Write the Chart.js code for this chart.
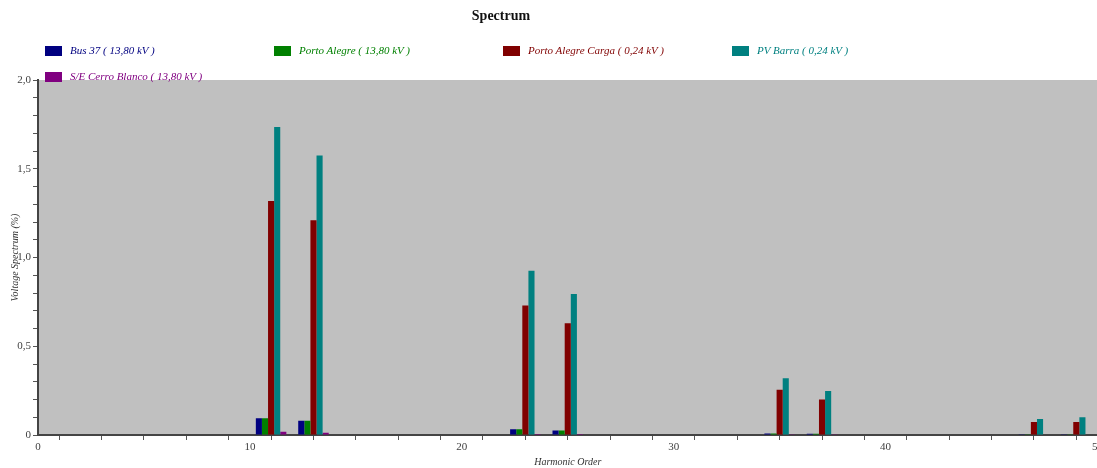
<!DOCTYPE html>
<html>
<head>
<meta charset="utf-8">
<script src="https://cdn.jsdelivr.net/npm/chart.js@4.4.0/dist/chart.umd.min.js"></script>
<style>
  body { margin: 0; overflow: hidden; background: #fff; font-family: "Liberation Serif", serif; }
  #wrap { position: absolute; left: 0; top: 0; width: 1104px; height: 468px; }
  #title { position: absolute; top: 8px; left: 0; width: 1002px; text-align: center; font-weight: bold; font-size: 14px; color: #111; }
  .leg { position: absolute; font-style: italic; font-size: 11px; white-space: nowrap; }
  .leg span.box { position: absolute; left: 0; top: 1px; width: 17px; height: 10px; }
  .leg span.txt { position: absolute; left: 25px; top: -1px; }
</style>
</head>
<body>
<div id="wrap"><canvas id="spectrumChart"></canvas></div>
<div id="title">Spectrum</div>
<div id="legend"></div>
<script>
// Harmonic orders that carry a value
const harmonics = [11, 13, 23, 25, 35, 37, 47, 49];

// Voltage spectrum (%) per bus, one value per harmonic above
const seriesNames = [
    "Bus 37 ( 13,80 kV )",
    "Porto Alegre ( 13,80 kV )",
    "Porto Alegre Carga ( 0,24 kV )",
    "PV Barra ( 0,24 kV )",
    "S/E Cerro Blanco ( 13,80 kV )"
];
const bus37 = [0.095, 0.08, 0.032, 0.026, 0.008, 0.007, 0.001, 0.001];
const portoAlegre = [0.095, 0.08, 0.032, 0.026, 0.008, 0.007, 0.001, 0.001];
const portoAlegreCarga = [1.318, 1.21, 0.73, 0.63, 0.255, 0.2, 0.073, 0.073];
const pvBarra = [1.735, 1.575, 0.925, 0.795, 0.32, 0.248, 0.09, 0.1];
const cerroBlanco = [0.018, 0.012, 0.006, 0.005, 0.002, 0.002, 0, 0];
const seriesColors = ["#000080", "#008000", "#800000", "#008080", "#800080"];

// Axis ticks
const xLabelTicks = [0, 10, 20, 30, 40, 50];
const yLabelTicks = [0, 0.5, 1.0, 1.5, 2.0];

const allValues = [bus37, portoAlegre, portoAlegreCarga, pvBarra, cerroBlanco];

const datasets = allValues.map((vals, i) => ({
    label: seriesNames[i],
    data: harmonics.map((h, j) => ({ x: h, y: vals[j] })),
    backgroundColor: seriesColors[i],
    borderWidth: 0,
    categoryPercentage: 0.72,
    barPercentage: 1.0
}));

// Legend laid out in fixed columns like the original
const legendDiv = document.getElementById("legend");
seriesNames.forEach((name, i) => {
    const col = i % 4;
    const row = Math.floor(i / 4);
    const item = document.createElement("div");
    item.className = "leg";
    item.style.left = (45 + col * 229) + "px";
    item.style.top = (45 + row * 26) + "px";
    item.innerHTML = `<span class="box" style="background:${seriesColors[i]}"></span><span class="txt" style="color:${seriesColors[i]}">${name}</span>`;
    legendDiv.appendChild(item);
});

// Grey plot background
const plotBackground = {
    id: "plotBackground",
    beforeDraw(chart) {
        const { ctx, chartArea } = chart;
        ctx.save();
        ctx.fillStyle = "#C0C0C0";
        ctx.fillRect(chartArea.left, chartArea.top, chartArea.right - chartArea.left, chartArea.bottom - chartArea.top);
        ctx.restore();
    }
};

function formatY(v) {
    if (v === 0) return "0";
    return v.toFixed(1).replace(".", ",");
}

const ctx = document.getElementById("spectrumChart").getContext("2d");
new Chart(ctx, {
    type: "bar",
    data: { datasets: datasets },
    plugins: [plotBackground],
    options: {
        responsive: true,
        maintainAspectRatio: false,
        animation: false,
        layout: { padding: { top: 80, right: 0, left: 0, bottom: 0 } },
        plugins: {
            legend: { display: false },
            title: { display: false },
            tooltip: { enabled: false }
        },
        scales: {
            x: {
                type: "linear",
                min: 0,
                max: 50,
                offset: false,
                afterFit: scale => { scale.height = 33; },
                ticks: {
                    stepSize: 2,
                    autoSkip: false,
                    maxRotation: 0,
                    padding: 1,
                    color: "#404040",
                    font: { family: "Liberation Serif", size: 11 },
                    callback: v => xLabelTicks.includes(v) ? String(v) : ""
                },
                grid: { drawOnChartArea: false, drawTicks: true, tickLength: 5, color: "#555" },
                border: { display: true, color: "#444", width: 2 },
                title: {
                    display: true,
                    text: "Harmonic Order",
                    color: "#333",
                    padding: 0,
                    font: { family: "Liberation Serif", size: 10, style: "italic" }
                }
            },
            y: {
                min: 0,
                max: 2,
                afterFit: scale => { scale.width = 38; },
                ticks: {
                    stepSize: 0.1,
                    autoSkip: false,
                    padding: 2,
                    color: "#404040",
                    font: { family: "Liberation Serif", size: 11 },
                    callback: v => yLabelTicks.some(t => Math.abs(t - v) < 1e-6) ? formatY(v) : ""
                },
                grid: { drawOnChartArea: false, drawTicks: true, tickLength: 5, color: "#555" },
                border: { display: true, color: "#444", width: 2 },
                title: {
                    display: true,
                    text: "Voltage Spectrum (%)",
                    color: "#333",
                    padding: 9,
                    font: { family: "Liberation Serif", size: 10, style: "italic" }
                }
            }
        }
    }
});
</script>
</body>
</html>
